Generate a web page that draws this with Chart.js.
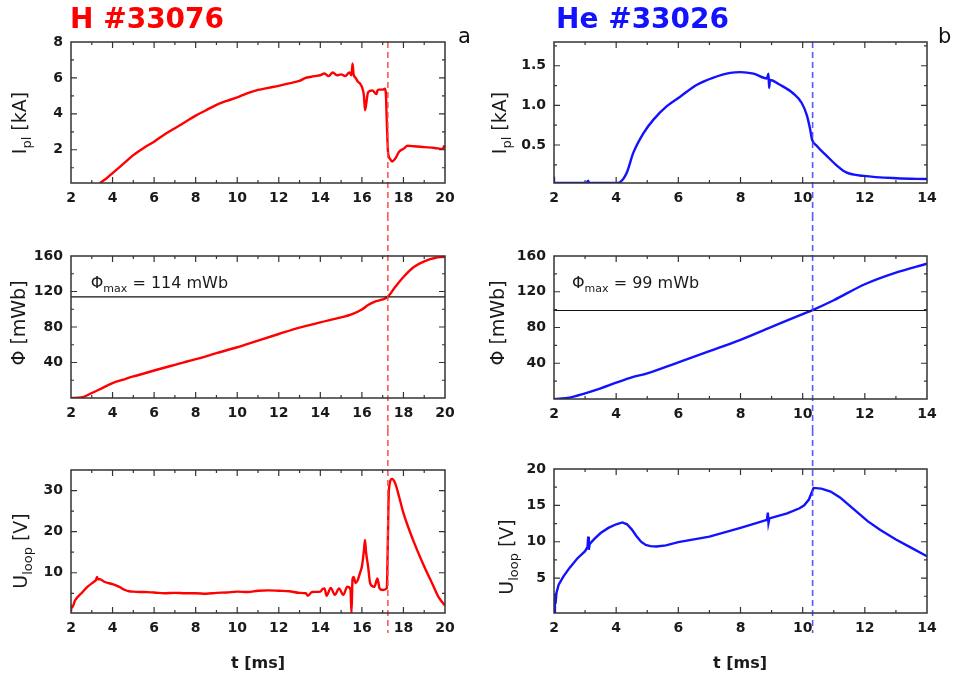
<!DOCTYPE html>
<html>
<head>
<meta charset="utf-8">
<script src="https://cdn.jsdelivr.net/npm/chart.js@4.4.0/dist/chart.umd.min.js"></script>
<style>
  body { margin: 0; background: #fff; width: 953px; height: 675px; position: relative; overflow: hidden; }
  canvas { position: absolute; }
</style>
</head>
<body>
<canvas id="c1" width="476" height="215" style="left:0;top:0"></canvas>
<canvas id="c2" width="477" height="215" style="left:476px;top:0"></canvas>
<canvas id="c3" width="476" height="215" style="left:0;top:215px"></canvas>
<canvas id="c4" width="477" height="215" style="left:476px;top:215px"></canvas>
<canvas id="c5" width="476" height="245" style="left:0;top:430px"></canvas>
<canvas id="c6" width="477" height="245" style="left:476px;top:430px"></canvas>
<script>
// H #33076 - plasma current
const hIpT = [3.4, 3.7, 4.0, 4.5, 5.0, 5.5, 6.0, 6.5, 7.0, 7.5, 8.0, 8.5, 9.0, 9.5, 10.0, 10.5, 11.0, 11.5, 12.0, 12.5, 13.0, 13.3, 13.5, 13.7, 14.0, 14.2, 14.4, 14.6, 14.8, 15.0, 15.2, 15.4, 15.5, 15.55, 15.6, 15.7, 15.8, 15.9, 16.0, 16.1, 16.15, 16.2, 16.3, 16.5, 16.7, 16.75, 16.8, 17.0, 17.1, 17.15, 17.2, 17.25, 17.3, 17.35, 17.45, 17.6, 17.8, 18.0, 18.2, 18.5, 19.0, 19.5, 19.9, 19.95, 20.0];
const hIpV = [0.15, 0.4, 0.7, 1.2, 1.7, 2.1, 2.45, 2.85, 3.2, 3.55, 3.9, 4.2, 4.5, 4.72, 4.92, 5.15, 5.33, 5.45, 5.56, 5.7, 5.84, 6.0, 6.05, 6.1, 6.15, 6.25, 6.1, 6.3, 6.15, 6.2, 6.1, 6.3, 6.15, 6.8, 6.2, 6.0, 5.8, 5.7, 5.5, 5.0, 4.2, 4.5, 5.2, 5.3, 5.1, 5.3, 5.35, 5.35, 5.4, 5.2, 3.5, 2.0, 1.6, 1.5, 1.35, 1.5, 1.9, 2.05, 2.22, 2.2, 2.15, 2.1, 2.05, 2.2, 2.05];
// H #33076 - flux
const hPhiT = [2, 2.5, 3, 3.5, 4, 4.5, 5, 6, 7, 8, 9, 10, 11, 12, 13, 14, 15, 15.5, 16, 16.3, 16.6, 17, 17.25, 17.6, 18, 18.5, 19, 19.5, 20];
const hPhiV = [0, 0.7, 5.6, 11.2, 16.8, 20.6, 24.3, 31, 37.4, 43.7, 50.5, 57.2, 64.7, 72.1, 79.3, 85.2, 90.8, 94.2, 99.8, 104.7, 108.4, 111, 114, 125, 136.4, 147.7, 154, 157.8, 159];
// H #33076 - loop voltage
const hUT = [2.0, 2.02, 2.05, 2.2, 2.5, 2.8, 3.1, 3.2, 3.25, 3.3, 3.4, 3.6, 4.0, 4.3, 4.6, 4.8, 5.0, 5.5, 6.0, 6.5, 7.0, 7.5, 8.0, 8.5, 9.0, 9.5, 10.0, 10.5, 11.0, 11.5, 12.0, 12.5, 13.0, 13.3, 13.4, 13.6, 14.0, 14.1, 14.2, 14.3, 14.5, 14.7, 14.9, 15.1, 15.3, 15.45, 15.5, 15.55, 15.6, 15.7, 15.8, 15.9, 16.0, 16.1, 16.15, 16.2, 16.3, 16.4, 16.6, 16.75, 16.85, 17.0, 17.2, 17.25, 17.3, 17.45, 17.6, 17.8, 18.0, 18.5, 19.0, 19.4, 19.7, 20.0];
const hUV = [0.5, 2.0, 1.5, 3.3, 5.0, 6.6, 7.8, 8.2, 9.0, 8.4, 8.4, 7.8, 7.2, 6.6, 5.8, 5.5, 5.4, 5.3, 5.2, 5.0, 5.1, 5.0, 5.0, 4.9, 5.1, 5.2, 5.4, 5.3, 5.6, 5.7, 5.6, 5.5, 5.1, 5.0, 4.4, 5.3, 5.4, 6.0, 6.2, 4.4, 6.3, 4.6, 6.2, 4.6, 6.6, 6.0, 0.2, 8.5, 9.0, 7.5, 8.2, 9.8, 11.5, 15.5, 18.0, 15.0, 11.5, 7.4, 6.6, 8.6, 6.2, 5.8, 6.2, 18.0, 30.2, 32.8, 31.8, 28.3, 24.5, 17.5, 11.5, 7.2, 4.0, 2.0];

// He #33026 - plasma current
const heIpT = [2.0, 2.0, 2.02, 2.1, 3.05, 3.1, 3.12, 3.2, 4.0, 4.12, 4.34, 4.55, 4.88, 5.2, 5.63, 6.06, 6.6, 7.13, 7.67, 8.0, 8.42, 8.85, 8.9, 8.92, 8.95, 9.27, 9.7, 9.97, 10.13, 10.24, 10.3, 10.45, 10.78, 11.1, 11.42, 11.96, 13.03, 14.0];
const heIpV = [0.1, 0.02, 0.02, 0.02, 0.02, 0.05, 0.02, 0.02, 0.02, 0.03, 0.15, 0.4, 0.65, 0.82, 0.99, 1.11, 1.26, 1.35, 1.41, 1.42, 1.40, 1.34, 1.4, 1.22, 1.32, 1.26, 1.15, 1.03, 0.88, 0.7, 0.57, 0.49, 0.36, 0.24, 0.15, 0.11, 0.08, 0.07];
// He #33026 - flux
const hePhiT = [2, 2.5, 3, 3.5, 4, 4.5, 5, 6, 7, 8, 9, 10, 10.32, 11, 12, 13, 14];
const hePhiV = [0, 1.5, 6.3, 11.9, 18.2, 24.2, 28.7, 41, 53.5, 66.2, 80.7, 94.9, 99.5, 110.5, 128.4, 141.4, 151.4];
// He #33026 - loop voltage
const heUT = [2.0, 2.03, 2.05, 2.08, 2.15, 2.3, 2.5, 2.75, 3.0, 3.08, 3.1, 3.12, 3.15, 3.3, 3.5, 3.75, 4.0, 4.2, 4.35, 4.5, 4.65, 4.8, 4.95, 5.1, 5.3, 5.6, 6.0, 7.0, 8.0, 8.85, 8.88, 8.9, 8.93, 9.5, 9.9, 10.05, 10.2, 10.35, 10.6, 10.9, 11.2, 11.5, 11.8, 12.1, 12.5, 13.0, 13.5, 14.0];
const heUV = [0.2, 2.9, 1.5, 3.0, 4.1, 5.2, 6.4, 7.7, 8.7, 9.3, 10.7, 8.9, 9.7, 10.4, 11.2, 11.9, 12.4, 12.65, 12.4, 11.7, 10.8, 10.0, 9.55, 9.4, 9.35, 9.5, 9.95, 10.7, 11.9, 13.0, 14.0, 12.6, 13.2, 13.9, 14.6, 15.0, 15.8, 17.4, 17.3, 16.9, 16.1, 15.0, 13.9, 12.8, 11.6, 10.3, 9.15, 8.0];

const phiMaxH = 114, phiMaxHe = 99;
const discH = 17.25, discHe = 10.32;

const RED = '#ff0000', BLUE = '#1212ff', INK = '#1a1a1a';
const FONT = '"DejaVu Sans", sans-serif';

Chart.defaults.font.family = FONT;
Chart.defaults.font.size = 14;
Chart.defaults.font.weight = 'bold';
Chart.defaults.color = INK;

function pts(t, v) { return t.map((x, i) => ({ x: x, y: v[i] })); }

function richText(ctx, parts, x, y, rot, align) {
  ctx.save();
  ctx.translate(x, y);
  if (rot) ctx.rotate(rot);
  ctx.textBaseline = 'alphabetic';
  ctx.textAlign = 'left';
  let w = 0;
  parts.forEach(p => { ctx.font = p.font; w += ctx.measureText(p.text).width; });
  let cx = align === 'center' ? -w / 2 : 0;
  parts.forEach(p => {
    ctx.font = p.font;
    ctx.fillStyle = p.color || INK;
    ctx.fillText(p.text, cx, p.dy || 0);
    cx += ctx.measureText(p.text).width;
  });
  ctx.restore();
}

// frame, inward ticks on all sides, dashed marker, texts
const framePlugin = {
  id: 'frame',
  afterDatasetsDraw(chart) {
    const o = chart.options.plugins.frame;
    const ctx = chart.ctx, a = chart.chartArea;
    const xs = chart.scales.x, ys = chart.scales.y;
    ctx.save();
    // dashed vertical marker
    const vx = xs.getPixelForValue(o.vline);
    ctx.strokeStyle = o.vcolor;
    ctx.lineWidth = 1.6;
    ctx.setLineDash([6, 4]);
    ctx.beginPath();
    ctx.moveTo(vx, o.vFrom === 'top' ? a.top : 0);
    ctx.lineTo(vx, o.vTo === 'bottom' ? a.bottom + 20 : chart.height);
    ctx.stroke();
    ctx.setLineDash([]);

    ctx.strokeStyle = '#333';
    ctx.lineWidth = 1.5;
    ctx.strokeRect(a.left, a.top, a.right - a.left, a.bottom - a.top);
    ctx.lineWidth = 1.2;
    ctx.beginPath();
    xs.ticks.forEach(tk => {
      const p = xs.getPixelForValue(tk.value);
      if (p < a.left + 1 || p > a.right - 1) return;
      const len = tk.label !== '' ? 6 : 3;
      ctx.moveTo(p, a.bottom); ctx.lineTo(p, a.bottom - len);
      ctx.moveTo(p, a.top); ctx.lineTo(p, a.top + len);
    });
    ys.ticks.forEach(tk => {
      const p = ys.getPixelForValue(tk.value);
      if (p < a.top + 1 || p > a.bottom - 1) return;
      const len = tk.label !== '' ? 6 : 3;
      ctx.moveTo(a.left, p); ctx.lineTo(a.left + len, p);
      ctx.moveTo(a.right, p); ctx.lineTo(a.right - len, p);
    });
    ctx.stroke();

    if (o.note) {
      const nx = xs.getPixelForValue(o.note.x), ny = ys.getPixelForValue(o.note.y);
      richText(ctx, [
        { text: 'Φ', font: '16px ' + FONT },
        { text: 'max', font: '11px ' + FONT, dy: 4 },
        { text: ' = ' + o.note.text, font: '16px ' + FONT }
      ], nx, ny, 0, 'left');
    }
    const yt = o.ytitle;
    richText(ctx, yt.parts, yt.x, yt.y, -Math.PI / 2, 'center');
    (o.texts || []).forEach(t => {
      ctx.font = t.font; ctx.fillStyle = t.color || INK;
      ctx.textAlign = t.align || 'left'; ctx.textBaseline = 'alphabetic';
      ctx.fillText(t.text, t.x, t.y);
    });
    ctx.restore();
  }
};

function panel(id, p) {
  new Chart(document.getElementById(id), {
    type: 'line',
    data: { datasets: p.datasets },
    plugins: [framePlugin],
    options: {
      responsive: false,
      animation: false,
      events: [],
      devicePixelRatio: 1,
      layout: { padding: { top: p.padTop, right: p.padRight, left: 0, bottom: 0 } },
      elements: { point: { radius: 0 } },
      scales: {
        x: {
          type: 'linear', min: 2, max: p.xMax,
          grid: { display: false, drawTicks: false }, border: { display: false },
          ticks: { stepSize: 1, autoSkip: false, maxRotation: 0, padding: 7,
                   callback: v => (v % 2 === 0 ? String(v) : '') },
          afterFit: s => { s.height = p.xHeight; }
        },
        y: {
          type: 'linear', min: p.yMin, max: p.yMax,
          grid: { display: false, drawTicks: false }, border: { display: false },
          ticks: { stepSize: p.yStep, autoSkip: false, includeBounds: false, padding: 8, callback: p.yLabel },
          afterFit: s => { s.width = p.yWidth; }
        }
      },
      plugins: {
        legend: { display: false },
        tooltip: { enabled: false },
        frame: p.frame
      }
    }
  });
}

function curve(t, v, color, smooth) {
  return { data: pts(t, v), borderColor: color, borderWidth: 2.4, fill: false, tension: 0,
           cubicInterpolationMode: smooth ? 'monotone' : 'default' };
}
function hline(y, xMax) {
  return { data: [{ x: 2, y: y }, { x: xMax, y: y }], borderColor: '#111', borderWidth: 1.2, fill: false, tension: 0 };
}

const big = '19px ' + FONT, sub = '13px ' + FONT;
const ipTitle = [{ text: 'I', font: big }, { text: 'pl', font: sub, dy: 5 }, { text: ' [kA]', font: big }];
const phiTitle = [{ text: 'Φ [mWb]', font: big }];
const uTitle = [{ text: 'U', font: big }, { text: 'loop', font: sub, dy: 5 }, { text: ' [V]', font: big }];
const every = (step, digits) => v => {
  const r = Math.round(v / step * 1000) / 1000;
  return (v > 0 && Number.isInteger(r)) ? (digits ? v.toFixed(digits) : String(v)) : '';
};

// row 1
panel('c1', {
  xMax: 20, yMin: 0.15, yMax: 8, yStep: 1, yLabel: every(2),
  padTop: 42, padRight: 31, yWidth: 71, xHeight: 32,
  datasets: [curve(hIpT, hIpV, RED, true)],
  frame: { vline: discH, vcolor: 'rgba(255,70,70,0.9)', vFrom: 'top',
           ytitle: { parts: ipTitle, x: 26, y: 123 },
           texts: [{ text: 'H #33076', font: 'bold 28px ' + FONT, color: RED, x: 70, y: 28 },
                   { text: 'a', font: '21px ' + FONT, color: '#111', x: 458, y: 43 }] }
});
panel('c2', {
  xMax: 14, yMin: 0.02, yMax: 1.8, yStep: 0.25, yLabel: every(0.5, 1),
  padTop: 42, padRight: 26, yWidth: 78, xHeight: 32,
  datasets: [curve(heIpT, heIpV, BLUE, true)],
  frame: { vline: discHe, vcolor: 'rgba(70,70,255,0.9)', vFrom: 'top',
           ytitle: { parts: ipTitle, x: 30, y: 123 },
           texts: [{ text: 'He #33026', font: 'bold 28px ' + FONT, color: BLUE, x: 80, y: 28 },
                   { text: 'b', font: '21px ' + FONT, color: '#111', x: 462, y: 43 }] }
});
// row 2
panel('c3', {
  xMax: 20, yMin: 0, yMax: 160, yStep: 20, yLabel: every(40),
  padTop: 41, padRight: 31, yWidth: 71, xHeight: 32,
  datasets: [hline(phiMaxH, 20), curve(hPhiT, hPhiV, RED, true)],
  frame: { vline: discH, vcolor: 'rgba(255,70,70,0.9)',
           note: { x: 2.95, y: 124, text: phiMaxH + ' mWb' },
           ytitle: { parts: phiTitle, x: 25, y: 108 } }
});
panel('c4', {
  xMax: 14, yMin: 0, yMax: 160, yStep: 20, yLabel: every(40),
  padTop: 41, padRight: 26, yWidth: 78, xHeight: 31,
  datasets: [hline(phiMaxHe, 14), curve(hePhiT, hePhiV, BLUE, true)],
  frame: { vline: discHe, vcolor: 'rgba(70,70,255,0.9)',
           note: { x: 2.58, y: 124, text: phiMaxHe + ' mWb' },
           ytitle: { parts: phiTitle, x: 28, y: 108 } }
});
// row 3
panel('c5', {
  xMax: 20, yMin: 0.2, yMax: 35, yStep: 5, yLabel: every(10),
  padTop: 40, padRight: 31, yWidth: 71, xHeight: 62,
  datasets: [curve(hUT, hUV, RED, true)],
  frame: { vline: discH, vcolor: 'rgba(255,70,70,0.9)', vTo: 'bottom',
           ytitle: { parts: uTitle, x: 27, y: 121 },
           texts: [{ text: 't [ms]', font: 'bold 16px ' + FONT, align: 'center', x: 258, y: 238 }] }
});
panel('c6', {
  xMax: 14, yMin: 0.2, yMax: 20, yStep: 2.5, yLabel: every(5),
  padTop: 39, padRight: 26, yWidth: 78, xHeight: 62,
  datasets: [curve(heUT, heUV, BLUE, false)],
  frame: { vline: discHe, vcolor: 'rgba(70,70,255,0.9)', vTo: 'bottom',
           ytitle: { parts: uTitle, x: 37, y: 127 },
           texts: [{ text: 't [ms]', font: 'bold 16px ' + FONT, align: 'center', x: 264, y: 238 }] }
});
</script>
</body>
</html>
